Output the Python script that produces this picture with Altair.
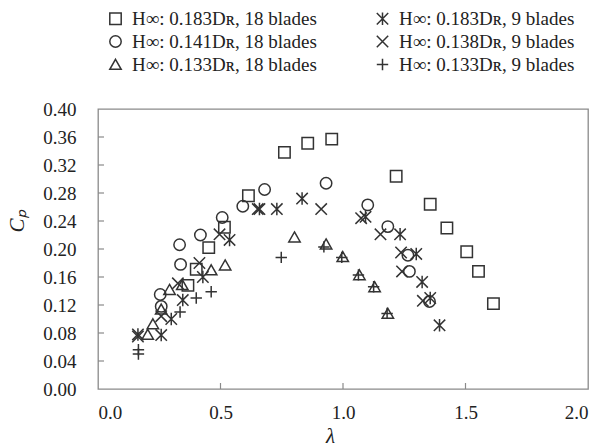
import altair as alt
import pandas as pd

# ---- data ----
labels = [
    "H∞: 0.183Dʀ, 18 blades",
    "H∞: 0.141Dʀ, 18 blades",
    "H∞: 0.133Dʀ, 18 blades",
    "H∞: 0.183Dʀ, 9 blades",
    "H∞: 0.138Dʀ, 9 blades",
    "H∞: 0.133Dʀ, 9 blades",
]

sq_x = [0.367, 0.401, 0.452, 0.516, 0.614, 0.761, 0.856, 0.954, 1.217, 1.356, 1.424, 1.505, 1.553, 1.614]
sq_y = [0.148, 0.171, 0.202, 0.231, 0.276, 0.338, 0.351, 0.357, 0.304, 0.264, 0.230, 0.196, 0.168, 0.122]

circ_x = [0.254, 0.258, 0.337, 0.333, 0.418, 0.507, 0.591, 0.680, 0.931, 1.101, 1.183, 1.265, 1.271, 1.353]
circ_y = [0.135, 0.118, 0.178, 0.206, 0.220, 0.245, 0.261, 0.285, 0.294, 0.263, 0.232, 0.191, 0.168, 0.125]

tri_x = [0.203, 0.224, 0.258, 0.292, 0.344, 0.462, 0.519, 0.802, 0.931, 0.999, 1.067, 1.129, 1.183]
tri_y = [0.078, 0.093, 0.114, 0.142, 0.149, 0.170, 0.177, 0.217, 0.207, 0.189, 0.163, 0.146, 0.108]

star_x = [0.163, 0.258, 0.299, 0.346, 0.428, 0.537, 0.659, 0.730, 0.833, 1.092, 1.233, 1.299, 1.323, 1.356, 1.394]
star_y = [0.078, 0.077, 0.100, 0.127, 0.160, 0.213, 0.257, 0.257, 0.272, 0.246, 0.221, 0.193, 0.153, 0.130, 0.091]

cross_x = [0.163, 0.258, 0.326, 0.414, 0.496, 0.652, 0.911, 1.074, 1.153, 1.237, 1.241, 1.326]
cross_y = [0.075, 0.104, 0.151, 0.180, 0.221, 0.257, 0.257, 0.244, 0.221, 0.195, 0.168, 0.126]

plus_x = [0.165, 0.165, 0.335, 0.401, 0.462, 0.748, 0.922, 0.995, 1.063, 1.125, 1.180]
plus_y = [0.050, 0.056, 0.110, 0.130, 0.139, 0.188, 0.203, 0.188, 0.163, 0.146, 0.108]

x_tick_values = [0.0, 0.5, 1.0, 1.5, 2.0]
y_tick_values = [0.00, 0.04, 0.08, 0.12, 0.16, 0.20, 0.24, 0.28, 0.32, 0.36, 0.40]
x_inner_ticks = [0.5, 1.0, 1.5]
y_inner_ticks = [0.04, 0.08, 0.12, 0.16, 0.20, 0.24, 0.28, 0.32, 0.36]

# marker shapes in legend order (square, circle, triangle, star, x, plus)
shape_range = [
    "square",
    "circle",
    "M0,-0.9L1,0.85L-1,0.85Z",
    "M-1,-1L1,1M-1,1L1,-1M0,-1.1L0,1.1",
    "M-1,-1L1,1M-1,1L1,-1",
    "M-1,0L1,0M0,-1L0,1",
]

series = [
    (labels[0], sq_x, sq_y),
    (labels[1], circ_x, circ_y),
    (labels[2], tri_x, tri_y),
    (labels[3], star_x, star_y),
    (labels[4], cross_x, cross_y),
    (labels[5], plus_x, plus_y),
]
rows = []
for name, xs, ys in series:
    for a, b in zip(xs, ys):
        rows.append({"lam": a, "cp": b, "series": name})
df = pd.DataFrame(rows)

FONT = "Liberation Serif"
INK = "#333333"
FRAME = "#8a8a8a"

x_scale = alt.Scale(domain=[0, 2], nice=False, zero=False)
y_scale = alt.Scale(domain=[0, 0.4], nice=False, zero=False)

x_axis = alt.Axis(
    values=x_tick_values, format=".1f", grid=False, domain=False, ticks=False,
    labelFont=FONT, labelFontSize=19, labelColor="#222222", labelPadding=14,
    title="λ", titleFont=FONT, titleFontSize=21, titleFontStyle="italic",
    titleFontWeight="normal", titleColor="#222222",
    titleX=232, titleY=47, titleBaseline="middle", titleAlign="center",
)
y_axis = alt.Axis(
    values=y_tick_values, format=".2f", grid=False, domain=False, ticks=False,
    labelFont=FONT, labelFontSize=19, labelColor="#222222", labelPadding=22,
    title="Cₚ", titleFont=FONT, titleFontSize=21, titleFontStyle="italic",
    titleFontWeight="normal", titleColor="#222222",
    titleX=-81, titleY=112, titleAngle=270, titleBaseline="middle", titleAlign="center",
)

points = alt.Chart(df).mark_point(
    filled=False, strokeWidth=1.5, color=INK, opacity=1, size=130
).encode(
    x=alt.X("lam:Q", scale=x_scale, axis=x_axis),
    y=alt.Y("cp:Q", scale=y_scale, axis=y_axis),
    shape=alt.Shape(
        "series:N",
        sort=labels,
        scale=alt.Scale(domain=labels, range=shape_range),
        legend=alt.Legend(
            title=None, orient="none", legendX=8, legendY=-100, columns=2,
            columnPadding=56, rowPadding=3, labelFont=FONT, labelFontSize=19,
            labelColor="#222222", labelOffset=7, labelLimit=0,
            symbolSize=130, symbolStrokeWidth=1.5, symbolStrokeColor=INK,
        ),
    ),
)

xt = alt.Chart(pd.DataFrame({"lam": x_inner_ticks})).mark_rule(
    color=FRAME, strokeWidth=1.2
).encode(
    x=alt.X("lam:Q", scale=x_scale, axis=x_axis),
    y=alt.value(280), y2=alt.value(274),
)
yt = alt.Chart(pd.DataFrame({"cp": y_inner_ticks})).mark_rule(
    color=FRAME, strokeWidth=1.2
).encode(
    y=alt.Y("cp:Q", scale=y_scale, axis=y_axis),
    x=alt.value(0), x2=alt.value(6),
)

chart = alt.layer(xt, yt, points).properties(
    width=490, height=280,
    autosize=alt.AutoSizeParams(type="none"),
    padding={"left": 98, "top": 109, "right": 12, "bottom": 59},
    background="white",
).configure_view(stroke=FRAME, strokeWidth=1.3)

chart.save("out.html", embed_options={"renderer": "svg", "actions": False})
